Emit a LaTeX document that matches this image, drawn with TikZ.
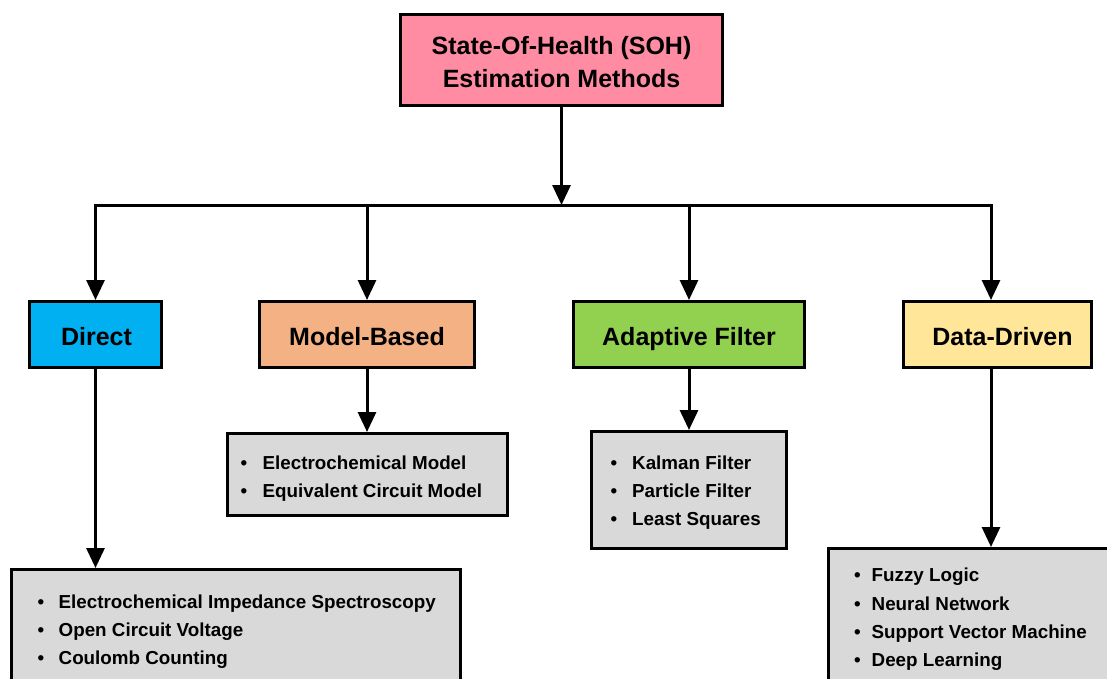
\documentclass[tikz,border=0pt]{standalone}
\usepackage{fontspec}
\setmainfont{Liberation Sans}
\usetikzlibrary{arrows.meta}
\definecolor{titlepink}{RGB}{255,140,162}
\definecolor{directblue}{RGB}{0,176,240}
\definecolor{modelorange}{RGB}{244,177,131}
\definecolor{adaptgreen}{RGB}{146,208,80}
\definecolor{datayellow}{RGB}{255,230,153}
\definecolor{listgray}{RGB}{217,217,217}
\newcommand{\bul}[2]{\makebox[#1][l]{•}#2}
\begin{document}
\begin{tikzpicture}[x=1pt,y=-1pt,
  box/.style={draw=black, line width=3pt, inner sep=0pt},
  head/.style={box, font=\fontsize{25}{33.3}\selectfont\bfseries, align=center},
  cat/.style={head, minimum height=66pt, text height=21pt, text depth=0pt},
  listbox/.style={box, fill=listgray},
  listtext/.style={font=\fontsize{18.8}{28.3}\selectfont\bfseries, anchor=base west, inner sep=0pt},
  conn/.style={line width=3pt},
  arr/.style={conn, -{Triangle[length=20pt,width=18pt]}}
]
\useasboundingbox (0,0) rectangle (1107,679);
\clip (0,0) rectangle (1107,679);

% title
\node[head, fill=titlepink, minimum width=322pt, minimum height=91pt] (soh) at (561.5,60)
  {\raisebox{-4pt}[\height][\depth]{\begin{tabular}{@{}c@{}}State-Of-Health (SOH)\\Estimation Methods\end{tabular}}};

% categories
\node[cat, fill=directblue,  minimum width=132pt] (direct) at (95.5,334.5) {\hspace*{2pt}Direct};
\node[cat, fill=modelorange, minimum width=215pt] (model)  at (367,334.5)  {Model-Based};
\node[cat, fill=adaptgreen,  minimum width=231pt] (adapt)  at (689,334.5)  {Adaptive Filter};
\node[cat, fill=datayellow,  minimum width=188pt] (data)   at (997.5,334.5) {\hspace*{10pt}Data-Driven};

% list boxes
\node[listbox, minimum width=449pt, minimum height=150pt] (dsub) at (236,644.5) {};
\node[listbox, minimum width=280pt, minimum height=82pt]  (msub) at (367,474.5) {};
\node[listbox, minimum width=195pt, minimum height=117pt] (asub) at (688.5,490) {};
\node[listbox, minimum width=302pt, minimum height=150pt] (ddsub) at (979.5,623.5) {};

% list texts
\node[listtext] (dlist) at (37.5,608) {\begin{tabular}[t]{@{}l@{}}
  \bul{21pt}{Electrochemical Impedance Spectroscopy}\\
  \bul{21pt}{Open Circuit Voltage}\\
  \bul{21pt}{Coulomb Counting}\end{tabular}};
\node[listtext] (mlist) at (240.5,469) {\begin{tabular}[t]{@{}l@{}}
  \bul{22pt}{Electrochemical Model}\\
  \bul{22pt}{Equivalent Circuit Model}\end{tabular}};
\node[listtext] (alist) at (610.5,469) {\begin{tabular}[t]{@{}l@{}}
  \bul{21.5pt}{Kalman Filter}\\
  \bul{21.5pt}{Particle Filter}\\
  \bul{21.5pt}{Least Squares}\end{tabular}};
\node[listtext] (ddlist) at (854,581.7) {\begin{tabular}[t]{@{}l@{}}
  \bul{17.5pt}{Fuzzy Logic}\\
  \bul{17.5pt}{Neural Network}\\
  \bul{17.5pt}{Support Vector Machine}\\
  \bul{17.5pt}{Deep Learning}\end{tabular}};

% connectors
\coordinate (bar) at ([yshift=-98pt]soh.south);
\coordinate (ddtop) at ([xshift=-6.5pt]data.north);
\coordinate (ddbot) at ([xshift=-6.5pt]data.south);
\draw[arr] (soh.south) -- (bar);
\draw[arr] (bar) -| (direct.north);
\draw[arr] (bar) -| (ddtop);
\draw[arr] (model.north |- bar) -- (model.north);
\draw[arr] (adapt.north |- bar) -- (adapt.north);

\draw[arr] (direct.south) -- (direct.south |- dsub.north);
\draw[arr] (model.south) -- (model.south |- msub.north);
\draw[arr] (adapt.south) -- (adapt.south |- asub.north);
\draw[arr] (ddbot) -- (ddbot |- ddsub.north);
\end{tikzpicture}
\end{document}
